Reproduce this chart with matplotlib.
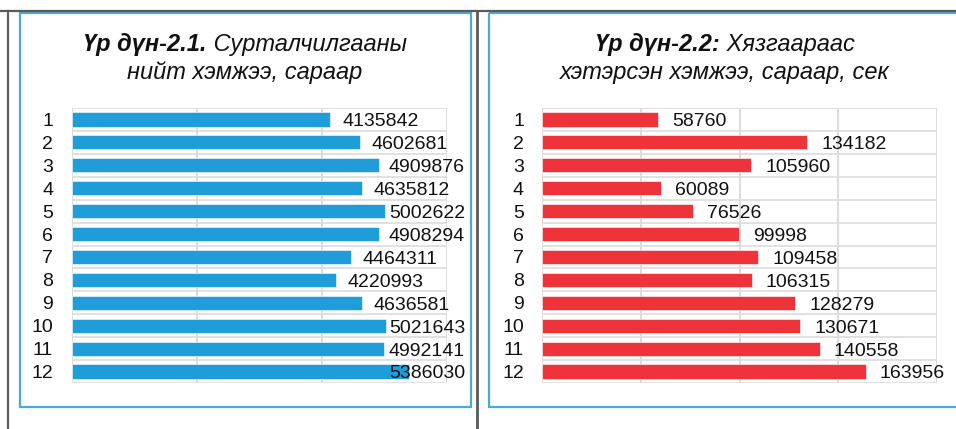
import matplotlib
matplotlib.use("Agg")
import matplotlib.pyplot as plt
from matplotlib.patches import Rectangle
from matplotlib.lines import Line2D

plt.rcParams['font.family'] = ['Liberation Sans', 'DejaVu Sans']

months = ['1', '2', '3', '4', '5', '6', '7', '8', '9', '10', '11', '12']
total_volume = [4135842, 4602681, 4909876, 4635812, 5002622, 4908294,
                4464311, 4220993, 4636581, 5021643, 4992141, 5386030]
over_limit = [58760, 134182, 105960, 60089, 76526, 99998,
              109458, 106315, 128279, 130671, 140558, 163956]

title1_bold = 'Үр дүн-2.1.'
title1_rest = ' Сурталчилгааны'
title1_line2 = 'нийт хэмжээ, сараар'
title2_bold = 'Үр дүн-2.2:'
title2_rest = ' Хязгаараас'
title2_line2 = 'хэтэрсэн хэмжээ, сараар, сек'

W, H = 956, 429
fig = plt.figure(figsize=(W / 100, H / 100), dpi=100)
fig.patch.set_facecolor('white')

# overlay in pixel coordinates for frames and titles
ov = fig.add_axes([0, 0, 1, 1], zorder=0)
ov.set_xlim(0, W)
ov.set_ylim(H, 0)
ov.axis('off')

dark = '#5a5a5a'
frame_blue = '#4aa8dc'
ov.add_line(Line2D([0, W], [10.5, 10.5], color=dark, lw=1.6))
ov.add_line(Line2D([8, 8], [10.5, H], color=dark, lw=1.6))
ov.add_line(Line2D([477.5, 477.5], [10.5, H], color=dark, lw=2.0))
ov.add_patch(Rectangle((20, 12.5), 451, 394.5, fill=False, ec=frame_blue, lw=1.6))
ov.add_patch(Rectangle((489, 12.5), 480, 394.5, fill=False, ec=frame_blue, lw=1.6))

renderer = fig.canvas.get_renderer()
tsize = 17


def mixed_title(cx, cy, bold, rest, line2):
    t1 = ov.text(0, cy, bold, fontsize=tsize, fontweight='bold', style='italic',
                 va='center', ha='left', color='#111111')
    t2 = ov.text(0, cy, rest, fontsize=tsize, style='italic',
                 va='center', ha='left', color='#111111')
    w1 = t1.get_window_extent(renderer).width
    w2 = t2.get_window_extent(renderer).width
    x0 = cx - (w1 + w2) / 2
    t1.set_x(x0)
    t2.set_x(x0 + w1)
    ov.text(cx, cy + 29, line2, fontsize=tsize, style='italic',
            va='center', ha='center', color='#111111')


mixed_title(245, 44, title1_bold, title1_rest, title1_line2)
mixed_title(725, 44, title2_bold, title2_rest, title2_line2)

grid_c = '#dcdcdc'


def bar_panel(rect, values, color, xmax, step, gap, cap, pad):
    ax = fig.add_axes(rect, zorder=1)
    ax.patch.set_alpha(0)
    y = list(range(len(months)))
    ax.barh(y, values, height=0.62, color=color, edgecolor='white',
            linewidth=0.4, zorder=3)
    ax.set_xlim(0, xmax)
    ax.set_ylim(len(months) - 0.5, -0.5)
    ax.set_xticks([i * step for i in range(int(round(xmax / step)) + 1)])
    ax.set_xticklabels([])
    ax.tick_params(axis='x', length=0)
    ax.grid(axis='x', color=grid_c, lw=1.4, zorder=0)
    for b in range(len(months) + 1):
        ax.axhline(b - 0.5, color=grid_c, lw=1.2, zorder=0)
    ax.set_yticks(y)
    ax.set_yticklabels(months, fontsize=14, color='#111111')
    ax.tick_params(axis='y', length=0, pad=pad)
    for s in ax.spines.values():
        s.set_visible(False)
    for yi, v in zip(y, values):
        xl = v + gap
        if cap is not None:
            xl = min(xl, cap)
        ax.text(xl, yi + 0.30, f'{v}', fontsize=14, va='baseline', ha='left',
                color='#111111', zorder=4)
    return ax


bar_panel([72 / W, 46 / H, 375 / W, 275 / H], total_volume, '#1e9dd8',
          6e6, 2e6, 0.19e6, 5.07e6, 13.5)
bar_panel([542 / W, 46 / H, 395 / W, 275 / H], over_limit, '#ee333a',
          2e5, 5e4, 7.1e3, None, 13)

fig.savefig('out.png', dpi=100)
